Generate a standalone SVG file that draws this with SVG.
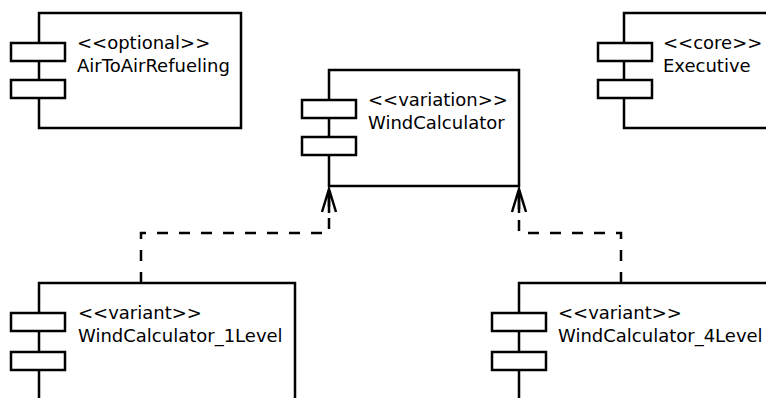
<svg xmlns="http://www.w3.org/2000/svg" width="766" height="398" viewBox="0 0 766 398">
  <defs>
    <style>
      .body { fill: #ffffff; stroke: #000000; stroke-width: 2.5; }
      .port { fill: #ffffff; stroke: #000000; stroke-width: 2.5; }
      .label { font-family: "DejaVu Sans", "Liberation Sans", sans-serif; font-size: 18px; fill: #000000; }
      .dep { fill: none; stroke: #000000; stroke-width: 2.5; stroke-dasharray: 11 11; }
      .head { fill: none; stroke: #000000; stroke-width: 2.5; }
    </style>
    <!-- open arrowhead with a short solid stem, pointing along +x -->
    <marker id="open-arrow" markerUnits="userSpaceOnUse" viewBox="-27 -10 30 20" markerWidth="30" markerHeight="20" refX="0" refY="0" orient="auto" overflow="visible">
      <path class="head" d="M-23,-7 L0,0 L-23,7 M-24,0 L0,0"/>
    </marker>
  </defs>

  <!-- dependency connectors -->
  <g id="connectors">
    <path class="dep" d="M141,283 V233 H329 V189" marker-end="url(#open-arrow)"/>
    <path class="dep" d="M621,283 V233 H519 V189" marker-end="url(#open-arrow)"/>
  </g>

  <g id="AirToAirRefueling">
    <rect class="body" x="39" y="13" width="202" height="115"/>
    <rect class="port" x="11" y="43" width="54" height="18"/>
    <rect class="port" x="11" y="80" width="54" height="18"/>
    <text class="label" x="77" y="49">&lt;&lt;optional&gt;&gt;</text>
    <text class="label" x="77" y="72">AirToAirRefueling</text>
  </g>

  <g id="WindCalculator">
    <rect class="body" x="329" y="70" width="190" height="116"/>
    <rect class="port" x="302" y="100" width="54" height="18"/>
    <rect class="port" x="302" y="137" width="54" height="18"/>
    <text class="label" x="368" y="106">&lt;&lt;variation&gt;&gt;</text>
    <text class="label" x="368" y="129">WindCalculator</text>
  </g>

  <g id="Executive">
    <rect class="body" x="624" y="13" width="160" height="115"/>
    <rect class="port" x="598" y="43" width="54" height="18"/>
    <rect class="port" x="598" y="80" width="54" height="18"/>
    <text class="label" x="663" y="49">&lt;&lt;core&gt;&gt;</text>
    <text class="label" x="663" y="72">Executive</text>
  </g>

  <g id="WindCalculator_1Level">
    <rect class="body" x="39" y="283" width="256" height="130"/>
    <rect class="port" x="11" y="313" width="54" height="18"/>
    <rect class="port" x="11" y="352" width="54" height="18"/>
    <text class="label" x="78" y="319">&lt;&lt;variant&gt;&gt;</text>
    <text class="label" x="78" y="342">WindCalculator_1Level</text>
  </g>

  <g id="WindCalculator_4Level">
    <rect class="body" x="519" y="283" width="265" height="130"/>
    <rect class="port" x="492" y="313" width="54" height="18"/>
    <rect class="port" x="492" y="352" width="54" height="18"/>
    <text class="label" x="558" y="319">&lt;&lt;variant&gt;&gt;</text>
    <text class="label" x="558" y="342">WindCalculator_4Level</text>
  </g>
</svg>
